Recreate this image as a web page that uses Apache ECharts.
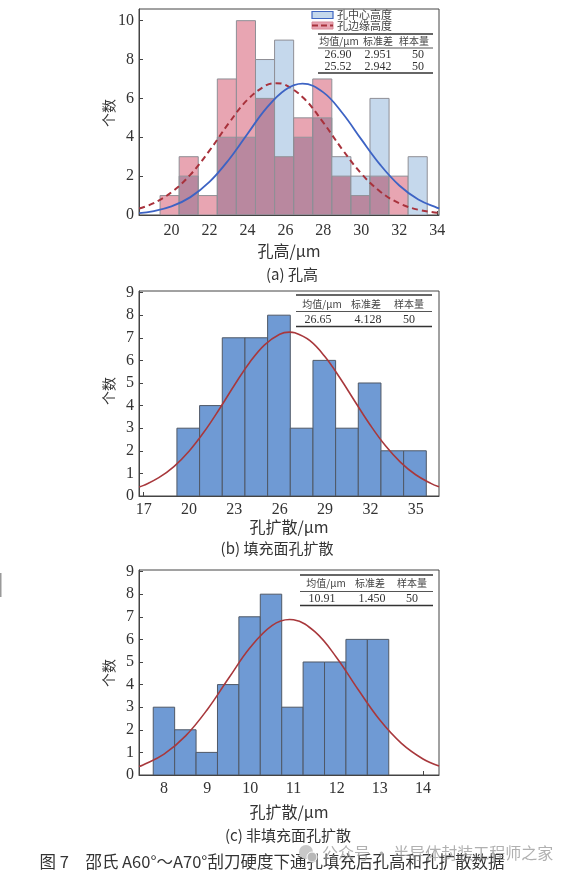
<!DOCTYPE html>
<html><head><meta charset="utf-8">
<script src="https://cdn.jsdelivr.net/npm/echarts@6/dist/echarts.min.js"></script>
<style>html,body{margin:0;padding:0;background:#fff}#c{width:569px;height:877px}</style>
</head><body><div id="c"></div>
<script>
// ---------- DATA ----------
// (a) hole height histogram
const aBinStart = 19.4, aBinWidth = 1.005;
const aCenterCounts = [0, 2, 0, 4, 4, 8, 9, 4, 5, 3, 2, 6, 0, 3];   // 孔中心高度
const aEdgeCounts   = [1, 3, 1, 7, 10, 6, 3, 5, 7, 2, 1, 2, 2, 0];  // 孔边缘高度
const aCurveX      = [18.3, 19, 20, 21, 22, 23, 24, 25, 26, 26.9, 28, 29, 30, 31, 32, 33, 34, 34.1];
const aCurveCenter = [0.10, 0.19, 0.44, 0.92, 1.70, 2.82, 4.17, 5.50, 6.45, 6.76, 6.31, 5.25, 3.89, 2.58, 1.52, 0.80, 0.37, 0.35];
const aCurveEdgeX  = [18.3, 19, 20, 21, 22, 23, 24, 25, 25.5, 26, 27, 28, 29, 30, 31, 32, 33, 34, 34.1];
const aCurveEdge   = [0.33, 0.58, 1.17, 2.08, 3.31, 4.70, 5.93, 6.68, 6.78, 6.69, 5.98, 4.75, 3.37, 2.13, 1.20, 0.60, 0.27, 0.11, 0.10];
const aXTicks = [20, 22, 24, 26, 28, 30, 32, 34];
const aYTicks = [0, 2, 4, 6, 8, 10];
const legendNames = ['孔中心高度', '孔边缘高度'];
const statHeaders = ['均值/μm', '标准差', '样本量'];
const aStats = [['26.90', '2.951', '50'], ['25.52', '2.942', '50']];

// (b) filled-side hole spread
const bBinStart = 19.2, bBinWidth = 1.5;
const bCounts = [3, 4, 7, 7, 8, 3, 6, 3, 5, 2, 2];
const bCurveX = [16.7, 17, 18, 19, 20, 21, 22, 23, 24, 25, 26, 26.65, 27, 28, 29, 30, 31, 32, 33, 34, 35, 36, 36.54];
const bCurveY = [0.40, 0.47, 0.81, 1.30, 1.98, 2.84, 3.84, 4.90, 5.90, 6.69, 7.16, 7.25, 7.22, 6.87, 6.16, 5.21, 4.16, 3.13, 2.22, 1.49, 0.94, 0.56, 0.41];
const bXTicks = [17, 20, 23, 26, 29, 32, 35];
const bStats = [['26.65', '4.128', '50']];

// (c) non-filled-side hole spread
const cBinStart = 7.75, cBinWidth = 0.496;
const cCounts = [3, 2, 1, 4, 7, 8, 3, 5, 5, 6, 6];
const cCurveX = [7.42, 7.5, 8, 8.5, 9, 9.5, 10, 10.5, 10.91, 11, 11.5, 12, 12.5, 13, 13.5, 14, 14.37];
const cCurveY = [0.38, 0.43, 0.92, 1.73, 2.89, 4.29, 5.65, 6.61, 6.88, 6.87, 6.33, 5.19, 3.77, 2.43, 1.40, 0.71, 0.40];
const cXTicks = [8, 9, 10, 11, 12, 13, 14];
const cStats = [['10.91', '1.450', '50']];
const yTicks9 = [0, 1, 2, 3, 4, 5, 6, 7, 8, 9];

const yName = '个数';
const xNameA = '孔高/μm', xNameBC = '孔扩散/μm';
const captions = ['(a) 孔高', '(b) 填充面孔扩散', '(c) 非填充面孔扩散'];
const figCaption = '图 7　邵氏 A60°～A70°刮刀硬度下通孔填充后孔高和孔扩散数据';
const watermark = '公众号 · 半导体封装工程师之家';

// ---------- HELPERS ----------
const zip = (xs, ys) => xs.map((x, i) => [x, ys[i]]);
const binRows = (start, w, counts) => counts.map((c, i) => [start + i * w, start + (i + 1) * w, c]);
const SERIF = 'Liberation Serif';
const CJK = 'Noto Sans CJK SC';

const C_BLUE = '#c5d8ec', C_PINK = '#e8a5b2', C_OVER = '#b9889f';

function makeX(idx, min, max, ticks, name, gap, margin) {
  return {
    type: 'value', gridIndex: idx, min, max,
    name, nameLocation: 'middle', nameGap: gap,
    nameTextStyle: { fontFamily: CJK, fontSize: 16, color: '#333' },
    axisLine: { show: true, onZero: false, lineStyle: { color: '#444', width: 1 } },
    axisTick: { show: true, inside: true, length: 4, customValues: ticks, lineStyle: { color: '#444' } },
    axisLabel: { customValues: ticks, fontFamily: SERIF, fontSize: 16, color: '#333', margin },
    splitLine: { show: false }
  };
}
function makeY(idx, max, ticks) {
  return {
    type: 'value', gridIndex: idx, min: 0, max,
    axisLine: { show: true, lineStyle: { color: '#444', width: 1 } },
    axisTick: { show: true, inside: true, length: 4, customValues: ticks, lineStyle: { color: '#444' } },
    axisLabel: { customValues: ticks, fontFamily: SERIF, fontSize: 16, color: '#333', margin: 5 },
    splitLine: { show: false }
  };
}

function renderOverlap(params, api) {
  const x0 = api.value(0), x1 = api.value(1), b = api.value(2), r = api.value(3);
  const lo = Math.min(b, r), hi = Math.max(b, r);
  const base = api.coord([x0, 0]);
  const right = api.coord([x1, 0])[0];
  const w = right - base[0];
  const yLo = api.coord([x0, lo])[1], yHi = api.coord([x0, hi])[1];
  const yB = api.coord([x0, b])[1], yR = api.coord([x0, r])[1];
  const ch = [];
  if (lo > 0) ch.push({ type: 'rect', shape: { x: base[0], y: yLo, width: w, height: base[1] - yLo }, style: { fill: C_OVER } });
  if (hi > lo) ch.push({ type: 'rect', shape: { x: base[0], y: yHi, width: w, height: yLo - yHi }, style: { fill: b > r ? C_BLUE : C_PINK } });
  if (b > 0) ch.push({ type: 'rect', shape: { x: base[0], y: yB, width: w, height: base[1] - yB }, style: { fill: 'none', stroke: '#8f8f96', lineWidth: 1 } });
  if (r > 0) ch.push({ type: 'rect', shape: { x: base[0], y: yR, width: w, height: base[1] - yR }, style: { fill: 'none', stroke: '#8f8f96', lineWidth: 1 } });
  return { type: 'group', children: ch };
}
function renderBar(params, api) {
  const x0 = api.value(0), x1 = api.value(1), c = api.value(2);
  const p0 = api.coord([x0, 0]), p1 = api.coord([x1, c]);
  return { type: 'rect', shape: { x: p0[0], y: p1[1], width: p1[0] - p0[0], height: p0[1] - p1[1] },
           style: { fill: '#6f9ad4', stroke: '#4f5866', lineWidth: 1 } };
}

function table(x0, x1, yTop, yMid, yBot, yHead, rowYs, cols, valCols, rows) {
  const els = [];
  els.push({ type: 'line', shape: { x1: x0, y1: yTop, x2: x1, y2: yTop }, style: { stroke: '#333', lineWidth: 1.6 } });
  els.push({ type: 'line', shape: { x1: x0, y1: yMid, x2: x1, y2: yMid }, style: { stroke: '#555', lineWidth: 1 } });
  els.push({ type: 'line', shape: { x1: x0, y1: yBot, x2: x1, y2: yBot }, style: { stroke: '#333', lineWidth: 1.6 } });
  statHeaders.forEach((h, i) => els.push({ type: 'text', style: { text: h, x: cols[i], y: yHead, align: 'center', verticalAlign: 'middle', font: '10px "' + CJK + '"', fill: '#444' } }));
  rows.forEach((row, r) => row.forEach((v, i) => els.push({ type: 'text', style: { text: v, x: valCols[i], y: rowYs[r], align: 'center', verticalAlign: 'middle', font: '12px "' + SERIF + '"', fill: '#333' } })));
  return els;
}

const graphics = [];
// y-axis names (rotated)
[113, 391, 673].forEach(cy => graphics.push({ type: 'text', x: 109, y: cy, rotation: Math.PI / 2,
  style: { text: yName, align: 'center', verticalAlign: 'middle', font: '14px "' + CJK + '"', fill: '#333' } }));
// legend (a)
graphics.push({ type: 'rect', shape: { x: 312, y: 11.5, width: 21, height: 7 }, style: { fill: C_BLUE, stroke: '#3f66c2', lineWidth: 1.2 } });
graphics.push({ type: 'rect', shape: { x: 312, y: 22, width: 21, height: 7 }, style: { fill: C_PINK, stroke: '#d98c9a', lineWidth: 1 } });
graphics.push({ type: 'line', shape: { x1: 312, y1: 25.5, x2: 333, y2: 25.5 }, style: { stroke: '#a8323c', lineWidth: 2, lineDash: [6, 3] } });
legendNames.forEach((n, i) => graphics.push({ type: 'text', style: { text: n, x: 337, y: 15 + i * 10.5, align: 'left', verticalAlign: 'middle', font: '11px "' + CJK + '"', fill: '#444' } }));
// tables
graphics.push(...table(318, 433, 34, 48, 73, 41.5, [54.5, 67], [339, 378, 414], [338, 378, 418], aStats));
graphics.push(...table(296, 432, 295, 311.5, 326.5, 304, [319.5], [322, 366, 409], [318, 368, 409], bStats));
graphics.push(...table(300, 433, 575, 591.5, 605.5, 583.5, [599], [326, 370, 412], [322, 372, 412], cStats));
// captions
graphics.push({ type: 'text', style: { text: captions[0], x: 292, y: 274, align: 'center', verticalAlign: 'middle', font: '15px "' + CJK + '"', fill: '#333' } });
graphics.push({ type: 'text', style: { text: captions[1], x: 277, y: 548, align: 'center', verticalAlign: 'middle', font: '15px "' + CJK + '"', fill: '#333' } });
graphics.push({ type: 'text', style: { text: captions[2], x: 288, y: 835, align: 'center', verticalAlign: 'middle', font: '15px "' + CJK + '"', fill: '#333' } });
graphics.push({ type: 'text', style: { text: figCaption, x: 272, y: 862, align: 'center', verticalAlign: 'middle', font: '16.5px "' + CJK + '"', fill: '#333' } });
// watermark
graphics.push({ type: 'circle', shape: { cx: 306, cy: 852, r: 7 }, style: { fill: '#c8c8c8' } });
graphics.push({ type: 'circle', shape: { cx: 312, cy: 857, r: 5 }, style: { fill: '#b8b8b8', stroke: '#fff', lineWidth: 1 } });
graphics.push({ type: 'text', style: { text: watermark, x: 322, y: 853, align: 'left', verticalAlign: 'middle', font: '16px "' + CJK + '"', fill: 'rgba(150,150,150,0.75)' } });
// left edge mark
graphics.push({ type: 'rect', shape: { x: 0, y: 573, width: 1.5, height: 24 }, style: { fill: '#9a9a9a' } });

const option = {
  backgroundColor: '#fff',
  animation: false,
  grid: [
    { left: 139, top: 9, width: 300, height: 206, show: true, borderColor: '#444', borderWidth: 1, backgroundColor: 'transparent' },
    { left: 139, top: 291, width: 300, height: 205, show: true, borderColor: '#444', borderWidth: 1, backgroundColor: 'transparent' },
    { left: 139, top: 570, width: 300, height: 205, show: true, borderColor: '#444', borderWidth: 1, backgroundColor: 'transparent' }
  ],
  xAxis: [
    makeX(0, 18.29, 34.09, aXTicks, xNameA, 28, 8),
    makeX(1, 16.69, 36.54, bXTicks, xNameBC, 21, 6),
    makeX(2, 7.42, 14.37, cXTicks, xNameBC, 29, 6)
  ],
  yAxis: [
    makeY(0, 10.6, aYTicks),
    makeY(1, 9.07, yTicks9),
    makeY(2, 9.07, yTicks9)
  ],
  series: [
    { type: 'custom', xAxisIndex: 0, yAxisIndex: 0, renderItem: renderOverlap, clip: true,
      encode: { x: [0, 1], y: [2, 3] },
      data: aCenterCounts.map((b, i) => [aBinStart + i * aBinWidth, aBinStart + (i + 1) * aBinWidth, b, aEdgeCounts[i]]) },
    { type: 'line', xAxisIndex: 0, yAxisIndex: 0, data: zip(aCurveEdgeX, aCurveEdge), smooth: 0.4, showSymbol: false,
      lineStyle: { color: '#a8323c', width: 2, type: [6, 4] } },
    { type: 'line', xAxisIndex: 0, yAxisIndex: 0, data: zip(aCurveX, aCurveCenter), smooth: 0.4, showSymbol: false,
      lineStyle: { color: '#3d63c4', width: 1.8 } },
    { type: 'custom', xAxisIndex: 1, yAxisIndex: 1, renderItem: renderBar, clip: true,
      encode: { x: [0, 1], y: 2 }, data: binRows(bBinStart, bBinWidth, bCounts) },
    { type: 'line', xAxisIndex: 1, yAxisIndex: 1, data: zip(bCurveX, bCurveY), smooth: 0.4, showSymbol: false,
      lineStyle: { color: '#a8383c', width: 1.6 } },
    { type: 'custom', xAxisIndex: 2, yAxisIndex: 2, renderItem: renderBar, clip: true,
      encode: { x: [0, 1], y: 2 }, data: binRows(cBinStart, cBinWidth, cCounts) },
    { type: 'line', xAxisIndex: 2, yAxisIndex: 2, data: zip(cCurveX, cCurveY), smooth: 0.4, showSymbol: false,
      lineStyle: { color: '#a8383c', width: 1.6 } }
  ],
  graphic: graphics
};
const chart = echarts.init(document.getElementById('c'), null, { renderer: 'canvas' });
chart.setOption(option);
</script>
</body></html>
